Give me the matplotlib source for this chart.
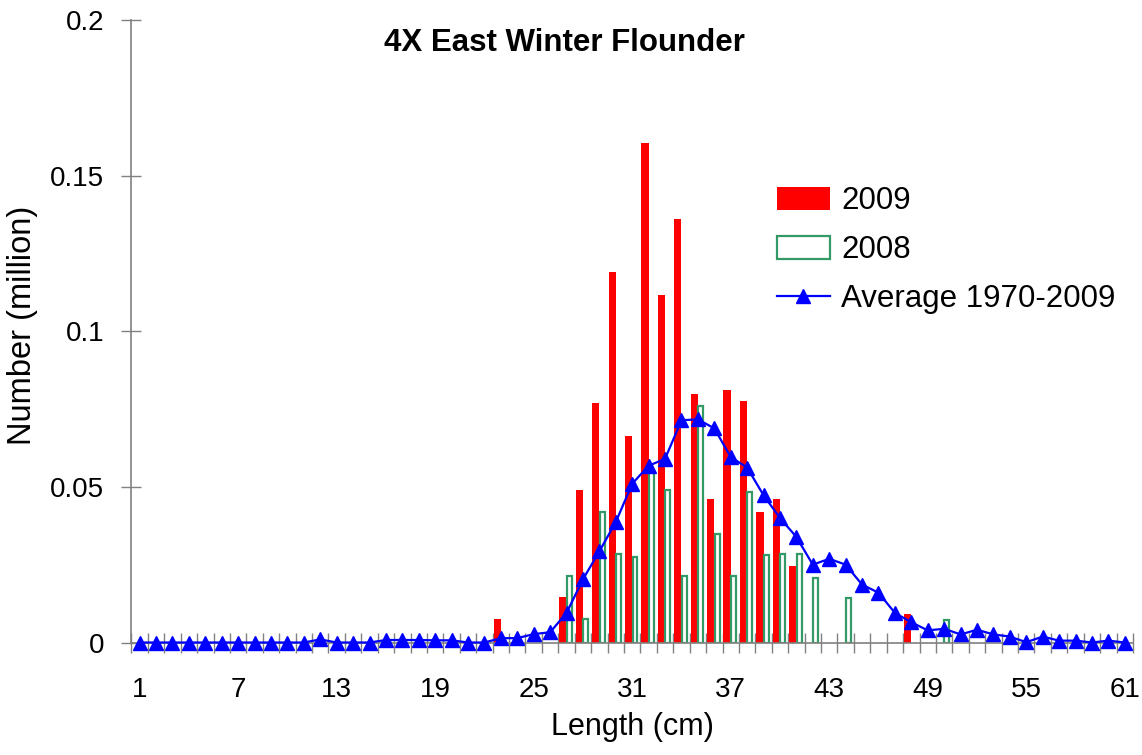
import matplotlib
matplotlib.use("Agg")
import matplotlib.pyplot as plt
import numpy as np
from matplotlib.ticker import FixedLocator, FuncFormatter

plt.rcParams['font.family'] = ['Liberation Sans', 'DejaVu Sans']

# length classes 1..61 cm
lengths = np.arange(1, 62)

# 2009 catch at length (million), zero where no bar
y2009 = {23: 0.0075, 27: 0.0145, 28: 0.049, 29: 0.077, 30: 0.119, 31: 0.0665,
         32: 0.1605, 33: 0.1115, 34: 0.136, 35: 0.080, 36: 0.046, 37: 0.081,
         38: 0.0775, 39: 0.042, 40: 0.046, 41: 0.0245, 48: 0.009}

# 2008
y2008 = {27: 0.0213, 28: 0.0074, 29: 0.042, 30: 0.0285, 31: 0.0275, 32: 0.055,
         33: 0.049, 34: 0.0213, 35: 0.076, 36: 0.035, 37: 0.0214, 38: 0.0485,
         39: 0.028, 40: 0.0285, 41: 0.0285, 42: 0.0207, 44: 0.0144, 50: 0.0073}

# average 1970-2009, one value per length class
avg = [0, 0, 0, 0, 0, 0, 0, 0, 0, 0,
       0, 0.001, 0, 0, 0, 0.0008, 0.0008, 0.0008, 0.0007, 0.0007,
       0, 0, 0.0014, 0.0014, 0.0027, 0.0033, 0.0095, 0.0203, 0.0293, 0.0387,
       0.051, 0.0568, 0.059, 0.0714, 0.0717, 0.0688, 0.0596, 0.0562, 0.0473, 0.040,
       0.0339, 0.025, 0.0269, 0.025, 0.0186, 0.016, 0.0095, 0.0065, 0.0039, 0.0044,
       0.0026, 0.0041, 0.0026, 0.0019, 0.0001, 0.0019, 0.0006, 0.0006, 0.0, 0.0006,
       0.0]

label_every = 6

v2009 = np.array([y2009.get(i, 0.0) for i in lengths])
v2008 = np.array([y2008.get(i, 0.0) for i in lengths])

fig = plt.figure(figsize=(11.42, 7.55), dpi=100)
ax = fig.add_axes([0.1151, 0.149, 0.8770, 0.8245])

red_x = lengths[v2009 > 0]
b1 = ax.bar(red_x - 0.22, v2009[v2009 > 0], width=0.44, color='#ff0000',
            linewidth=0, label='2009', zorder=2)
grn_x = lengths[v2008 > 0]
b2 = ax.bar(grn_x + 0.17, v2008[v2008 > 0], width=0.30, facecolor='white',
            edgecolor='#339966', linewidth=1.6, label='2008', zorder=2)
l1, = ax.plot(lengths, avg, color='#0000ff', lw=1.6, marker='^', markersize=9.5,
              label='Average 1970-2009', zorder=3, clip_on=False)

ax.set_xlim(0.5, 61.5)
ax.set_ylim(0, 0.2)

for s in ['top', 'right']:
    ax.spines[s].set_visible(False)
for s in ['left', 'bottom']:
    ax.spines[s].set_color('#808080')
    ax.spines[s].set_linewidth(1.2)

ax.set_yticks([0, 0.05, 0.1, 0.15, 0.2])
ax.yaxis.set_major_formatter(FuncFormatter(lambda v, p: '%g' % v))
ax.tick_params(axis='y', direction='inout', length=14.4, width=1.0,
               color='#808080', labelsize=20, pad=12.5)

ax.set_xticks(lengths[::label_every])
ax.xaxis.set_minor_locator(FixedLocator(np.arange(0.5, 62, 1)))
ax.tick_params(axis='x', which='major', length=0, labelsize=20, pad=25)
ax.tick_params(axis='x', which='minor', direction='inout', length=14.4,
               width=1.0, color='#808080')

ax.set_xlabel('Length (cm)', fontsize=22, labelpad=6)
ax.set_ylabel('Number (million)', fontsize=23.5)
ax.yaxis.set_label_coords(-0.093, 0.51)

ax.text(0.432, 0.963, '4X East Winter Flounder', transform=ax.transAxes,
        ha='center', va='center', fontsize=22.5, fontweight='bold')

ax.legend([b1, b2, l1], ['2009', '2008', 'Average 1970-2009'],
          loc='upper left', bbox_to_anchor=(0.6445, 0.733), frameon=False,
          fontsize=22.5, borderpad=0, borderaxespad=0, handlelength=1.7,
          handleheight=0.75, handletextpad=0.35, labelspacing=0.6)

fig.savefig('out.png', dpi=100)
